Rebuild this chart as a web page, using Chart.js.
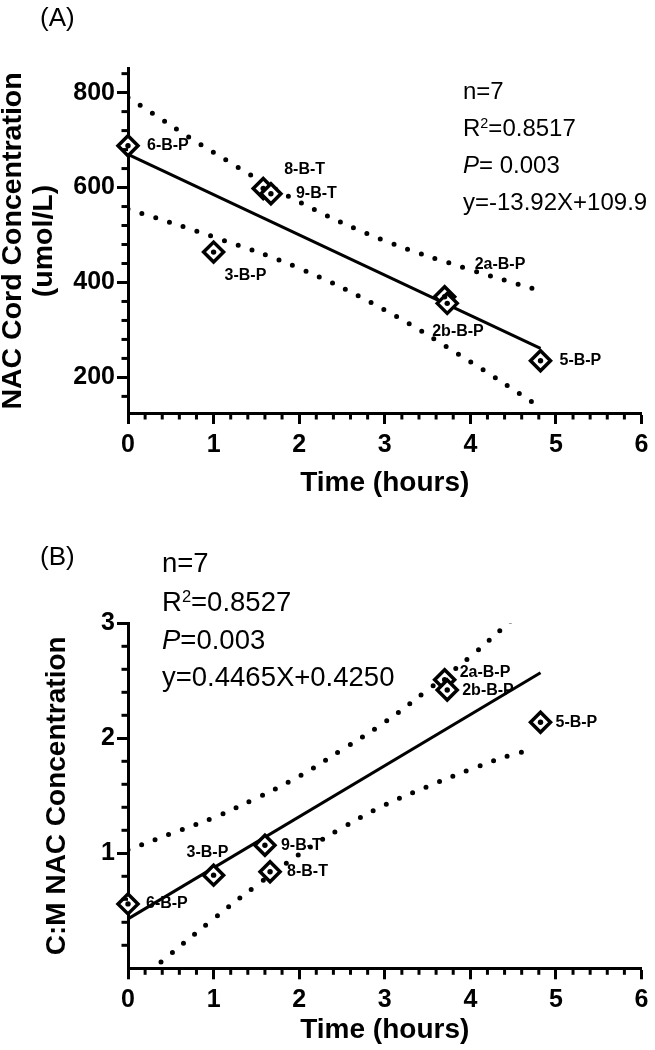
<!DOCTYPE html>
<html>
<head>
<meta charset="utf-8">
<script src="https://cdn.jsdelivr.net/npm/chart.js@4.4.1/dist/chart.umd.min.js"></script>
<style>
  body { margin: 0; background: #fff; font-family: "Liberation Sans", Arial, sans-serif; color: #000; }
  #wrap { position: relative; width: 655px; height: 1050px; overflow: hidden; }
  canvas { position: absolute; left: 0; }
  #chartA { top: 0; }
  #chartB { top: 520px; }
  .txt { position: absolute; white-space: nowrap; }
  .txt sup { font-size: 60%; vertical-align: 0; position: relative; top: -0.55em; }
  .panel { font-size: 26px; height: 34px; line-height: 34px; }
  .statA { left: 463px; font-size: 24px; height: 37px; line-height: 37px; }
  .statB { left: 162px; font-size: 27.5px; height: 38px; line-height: 38px; }
</style>
</head>
<body>
<div id="wrap">
  <canvas id="chartA" width="655" height="505"></canvas>
  <canvas id="chartB" width="655" height="530"></canvas>

  <div class="txt panel" style="left:40px; top:0px;">(A)</div>
  <div class="txt statA" style="top:72px;">n=7</div>
  <div class="txt statA" style="top:109px;">R<sup>2</sup>=0.8517</div>
  <div class="txt statA" style="top:146px;"><i>P</i>= 0.003</div>
  <div class="txt statA" style="top:183px;">y=-13.92X+109.9</div>

  <div class="txt panel" style="left:40px; top:539px;">(B)</div>
  <div class="txt statB" style="top:544px;">n=7</div>
  <div class="txt statB" style="top:583px;">R<sup>2</sup>=0.8527</div>
  <div class="txt statB" style="top:621px;"><i>P</i>=0.003</div>
  <div class="txt statB" style="top:658px;">y=0.4465X+0.4250</div>
</div>

<script>
/* (A) NAC cord concentration vs time */
const sampleA = ["6-B-P", "3-B-P", "8-B-T", "9-B-T", "2a-B-P", "2b-B-P", "5-B-P"];
const timeA = [0, 1.0, 1.58, 1.67, 3.70, 3.73, 4.82];
const cordNac = [688, 464, 598, 587, 370, 356, 235];
const fitTimeA = [0, 4.82];
const fitCordNac = [670, 261];
const bandTimeA = [0, 1, 2, 3, 4, 4.75];
const bandUpperA = [790, 674, 570, 488, 427, 386];
const bandLowerA = [555, 496, 430, 342, 233, 145];

/* (B) C:M NAC ratio vs time */
const sampleB = ["6-B-P", "3-B-P", "9-B-T", "8-B-T", "2a-B-P", "2b-B-P", "5-B-P"];
const timeB = [0, 1.0, 1.60, 1.66, 3.70, 3.73, 4.82];
const cmRatio = [0.56, 0.81, 1.07, 0.84, 2.51, 2.42, 2.14];
const fitTimeB = [0, 4.82];
const fitCmRatio = [0.43, 2.57];
const bandTimeB = [0, 0.5, 1, 1.5, 2, 2.5, 3, 3.5, 4, 4.5, 4.75];
const bandUpperB = [1.03, 1.17, 1.31, 1.48, 1.67, 1.90, 2.14, 2.42, 2.71, 3.04, 3.20];
const bandLowerB = [-0.19, 0.125, 0.43, 0.72, 0.99, 1.22, 1.42, 1.58, 1.73, 1.86, 1.90];

/* axes */
const timeTicks = [0, 1, 2, 3, 4, 5, 6];
const timeMinor = [0.2, 0.4, 0.6, 0.8, 1.2, 1.4, 1.6, 1.8, 2.2, 2.4, 2.6, 2.8,
                   3.2, 3.4, 3.6, 3.8, 4.2, 4.4, 4.6, 4.8, 5.2, 5.4, 5.6, 5.8];
const nacTicks = [200, 400, 600, 800];
const nacMinor = [160, 240, 280, 320, 360, 440, 480, 520, 560, 640, 680, 720, 760, 840];
const ratioTicks = [1, 2, 3];
const ratioMinor = [0.2, 0.4, 0.6, 0.8, 1.2, 1.4, 1.6, 1.8, 2.2, 2.4, 2.6, 2.8];

/* label offsets (px) next to each marker */
const tagOffsetA = {
  "6-B-P": [19, 0], "3-B-P": [11, 23], "8-B-T": [21, -19], "9-B-T": [25, 0],
  "2a-B-P": [30, -32], "2b-B-P": [-15, 28], "5-B-P": [19, 0]
};
const tagOffsetB = {
  "6-B-P": [18, 0], "3-B-P": [-27, -23], "9-B-T": [16, 0], "8-B-T": [17, 0],
  "2a-B-P": [15, -7], "2b-B-P": [15, 1], "5-B-P": [15, 0]
};

const FONT = '"Liberation Sans", Arial, sans-serif';
Chart.defaults.font.family = FONT;
Chart.defaults.color = "#000";

function pts(xs, ys) { return xs.map((x, i) => ({ x: x, y: ys[i] })); }

const minorTicks = {
  id: "minorTicks",
  afterDraw(chart, args, o) {
    const { ctx, scales: { x, y } } = chart;
    ctx.save();
    ctx.strokeStyle = "#000";
    ctx.lineWidth = 3;
    o.x.forEach(v => {
      const px = x.getPixelForValue(v);
      ctx.beginPath(); ctx.moveTo(px, x.top); ctx.lineTo(px, x.top + o.len); ctx.stroke();
    });
    o.y.forEach(v => {
      const py = y.getPixelForValue(v);
      ctx.beginPath(); ctx.moveTo(y.right, py); ctx.lineTo(y.right - o.len, py); ctx.stroke();
    });
    ctx.restore();
  }
};

const pointTags = {
  id: "pointTags",
  afterDatasetsDraw(chart, args, o) {
    const meta = chart.getDatasetMeta(o.dataset);
    const ctx = chart.ctx;
    ctx.save();
    ctx.font = "bold 16px " + FONT;
    ctx.fillStyle = "#000";
    ctx.textBaseline = "middle";
    ctx.textAlign = "left";
    o.names.forEach((name, i) => {
      const p = meta.data[i];
      const off = o.offsets[name];
      ctx.fillText(name, p.x + off[0], p.y + off[1]);
    });
    ctx.restore();
  }
};

function makeChart(id, cfg) {
  const dotBand = (data) => ({
    data: data, showLine: true, pointRadius: 0, borderColor: "#000",
    borderWidth: 5, borderDash: [0, 14.5], borderCapStyle: "round",
    tension: 0.4, clip: 0
  });
  return new Chart(document.getElementById(id), {
    type: "scatter",
    data: {
      datasets: [
        { data: cfg.points, pointStyle: "circle", pointRadius: 2.7, pointBackgroundColor: "#000",
          pointBorderWidth: 0, clip: false },
        { data: cfg.points, pointStyle: "rectRot", pointRadius: 10, pointBorderWidth: 3.5,
          pointBorderColor: "#000", pointBackgroundColor: "#fff", clip: false },
        { data: cfg.fit, showLine: true, pointRadius: 0, borderColor: "#000", borderWidth: 3, clip: false },
        dotBand(cfg.upper),
        dotBand(cfg.lower)
      ]
    },
    options: {
      responsive: false,
      animation: false,
      events: [],
      layout: { padding: { top: cfg.top, right: 6.5, left: 0, bottom: 0 } },
      plugins: {
        legend: { display: false },
        tooltip: { enabled: false },
        minorTicks: { x: timeMinor, y: cfg.yMinor, len: 6.5 },
        pointTags: { dataset: 1, names: cfg.names, offsets: cfg.offsets }
      },
      scales: {
        x: {
          type: "linear", min: 0, max: 6,
          afterBuildTicks: s => { s.ticks = timeTicks.map(v => ({ value: v })); },
          afterFit: s => { s.height = cfg.xHeight; },
          border: { display: true, color: "#000", width: 3 },
          grid: { display: true, drawOnChartArea: false, drawTicks: true, tickLength: 11, tickWidth: 3, tickColor: "#000" },
          ticks: { font: { size: 25, weight: "bold" }, color: "#000", padding: 6, maxRotation: 0, autoSkip: false },
          title: { display: true, text: "Time (hours)", color: "#000",
                   font: { size: 28, weight: "bold" }, padding: { top: 0, bottom: cfg.xTitlePad } }
        },
        y: {
          type: "linear", min: cfg.yMin, max: cfg.yMax,
          afterBuildTicks: s => { s.ticks = cfg.yTicks.map(v => ({ value: v })); },
          afterFit: s => { s.width = 128; },
          border: { display: true, color: "#000", width: 3 },
          grid: { display: true, drawOnChartArea: false, drawTicks: true, tickLength: 11, tickWidth: 3, tickColor: "#000" },
          ticks: { font: { size: 25, weight: "bold" }, color: "#000", padding: 2, autoSkip: false },
          title: { display: true, text: cfg.yTitle, color: "#000",
                   font: { size: cfg.yTitleSize, weight: "bold", lineHeight: 1.1 }, padding: { top: cfg.yTitlePad, bottom: 0 } }
        }
      }
    },
    plugins: [minorTicks, pointTags]
  });
}

makeChart("chartA", {
  points: pts(timeA, cordNac), fit: pts(fitTimeA, fitCordNac),
  upper: pts(bandTimeA, bandUpperA), lower: pts(bandTimeA, bandLowerA),
  names: sampleA, offsets: tagOffsetA,
  yMin: 125, yMax: 850, yTicks: nacTicks, yMinor: nacMinor,
  top: 68.9, xHeight: 92, xTitlePad: 5,
  yTitle: ["NAC Cord Concentration", "(umol/L)"], yTitleSize: 28.5, yTitlePad: -3
});

makeChart("chartB", {
  points: pts(timeB, cmRatio), fit: pts(fitTimeB, fitCmRatio),
  upper: pts(bandTimeB, bandUpperB), lower: pts(bandTimeB, bandLowerB),
  names: sampleB, offsets: tagOffsetB,
  yMin: 0, yMax: 3, yTicks: ratioTicks, yMinor: ratioMinor,
  top: 103.3, xHeight: 81.7, xTitlePad: 3,
  yTitle: "C:M NAC Concentration", yTitleSize: 28, yTitlePad: 42
});
</script>
</body>
</html>
